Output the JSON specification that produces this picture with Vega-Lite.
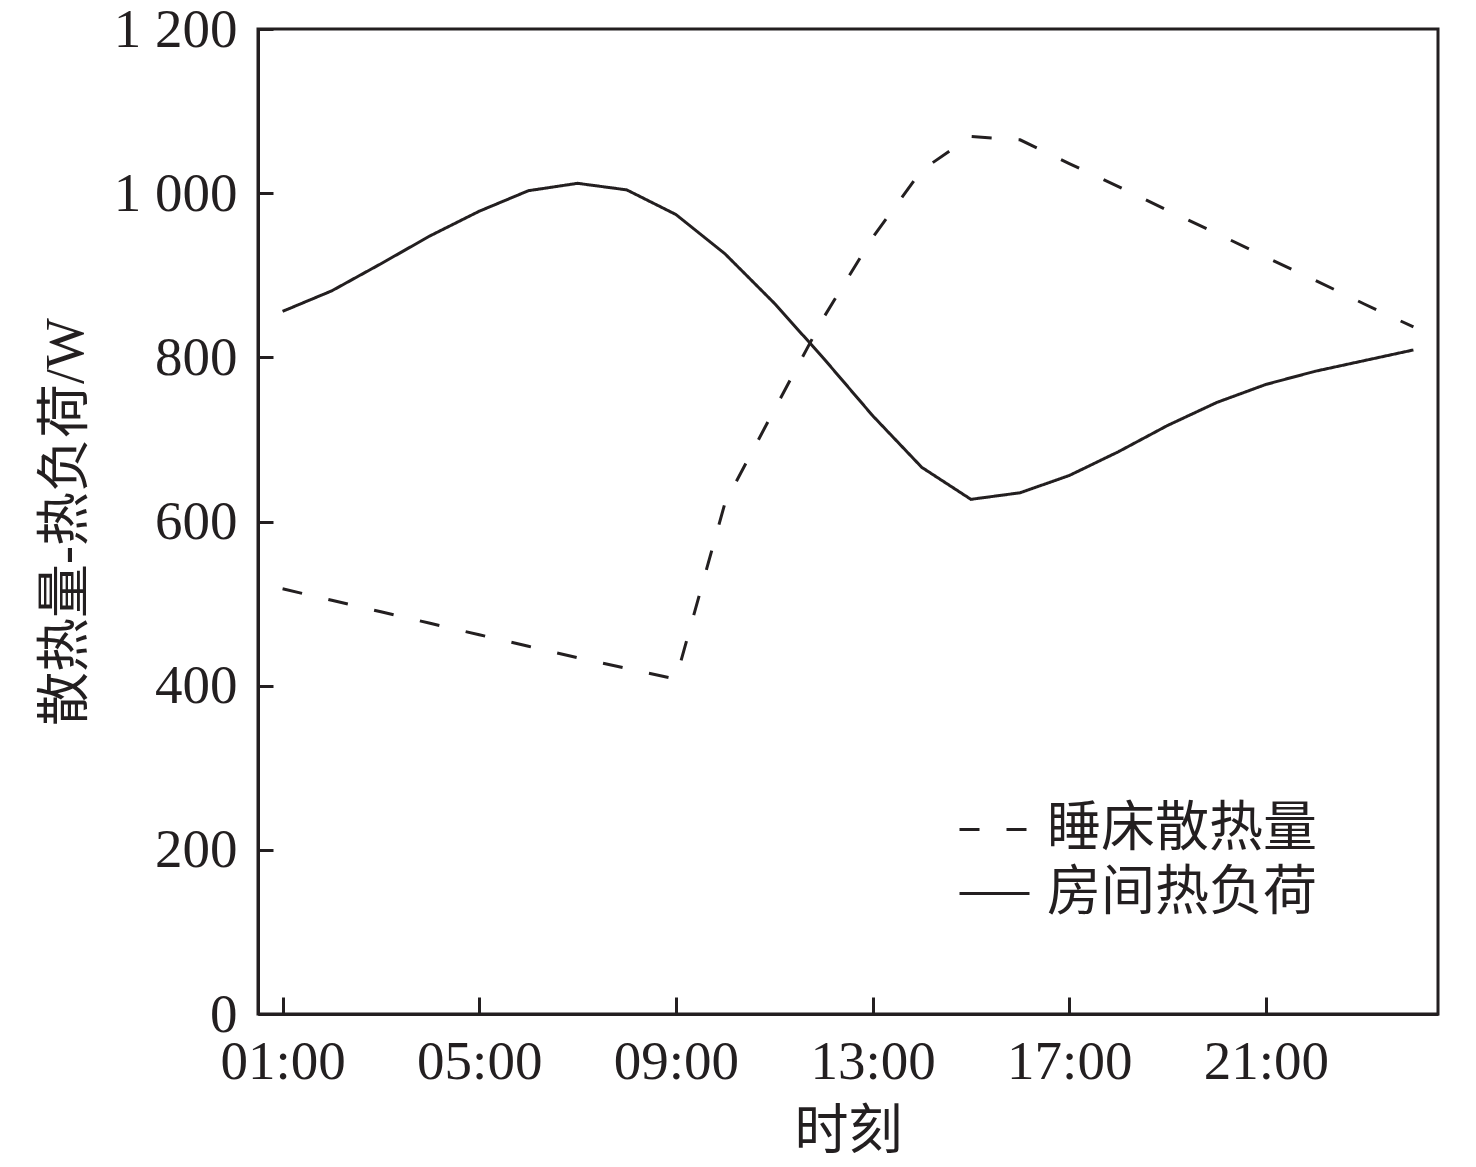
{
  "$schema": "https://vega.github.io/schema/vega-lite/v6.json",
  "width": 1180,
  "height": 985,
  "autosize": "none",
  "padding": {"left": 258, "top": 29, "right": 38, "bottom": 153},
  "background": "#ffffff",
  "config": {
    "font": "Liberation Serif, Noto Sans CJK SC",
    "view": {"stroke": "#231f20", "strokeWidth": 3},
    "axis": {
      "labelFont": "Liberation Serif, Noto Sans CJK SC",
      "titleFont": "Liberation Serif, Noto Sans CJK SC",
      "labelFontSize": 55,
      "titleFontSize": 54,
      "labelColor": "#231f20",
      "titleColor": "#231f20",
      "titleFontWeight": "normal",
      "domainColor": "#231f20",
      "domainWidth": 3,
      "tickColor": "#231f20",
      "tickWidth": 3,
      "grid": false
    },
    "legend": {
      "labelFont": "Liberation Serif, Noto Sans CJK SC",
      "labelFontSize": 54,
      "labelColor": "#231f20",
      "labelLimit": 0
    }
  },
  "data": {
    "values": [
      {"hour": 1, "series": "睡床散热量", "value": 518},
      {"hour": 2, "series": "睡床散热量", "value": 504},
      {"hour": 3, "series": "睡床散热量", "value": 490},
      {"hour": 4, "series": "睡床散热量", "value": 476},
      {"hour": 5, "series": "睡床散热量", "value": 462},
      {"hour": 6, "series": "睡床散热量", "value": 448},
      {"hour": 7, "series": "睡床散热量", "value": 434},
      {"hour": 8, "series": "睡床散热量", "value": 421},
      {"hour": 9, "series": "睡床散热量", "value": 408},
      {"hour": 10, "series": "睡床散热量", "value": 623},
      {"hour": 11, "series": "睡床散热量", "value": 736},
      {"hour": 12, "series": "睡床散热量", "value": 848},
      {"hour": 13, "series": "睡床散热量", "value": 946},
      {"hour": 14, "series": "睡床散热量", "value": 1028},
      {"hour": 15, "series": "睡床散热量", "value": 1069},
      {"hour": 16, "series": "睡床散热量", "value": 1065},
      {"hour": 17, "series": "睡床散热量", "value": 1036},
      {"hour": 18, "series": "睡床散热量", "value": 1008},
      {"hour": 19, "series": "睡床散热量", "value": 979},
      {"hour": 20, "series": "睡床散热量", "value": 951},
      {"hour": 21, "series": "睡床散热量", "value": 922},
      {"hour": 22, "series": "睡床散热量", "value": 894},
      {"hour": 23, "series": "睡床散热量", "value": 865},
      {"hour": 24, "series": "睡床散热量", "value": 837},
      {"hour": 1, "series": "房间热负荷", "value": 856},
      {"hour": 2, "series": "房间热负荷", "value": 881},
      {"hour": 3, "series": "房间热负荷", "value": 914},
      {"hour": 4, "series": "房间热负荷", "value": 948},
      {"hour": 5, "series": "房间热负荷", "value": 978},
      {"hour": 6, "series": "房间热负荷", "value": 1003},
      {"hour": 7, "series": "房间热负荷", "value": 1012},
      {"hour": 8, "series": "房间热负荷", "value": 1004},
      {"hour": 9, "series": "房间热负荷", "value": 974},
      {"hour": 10, "series": "房间热负荷", "value": 926},
      {"hour": 11, "series": "房间热负荷", "value": 866},
      {"hour": 12, "series": "房间热负荷", "value": 799},
      {"hour": 13, "series": "房间热负荷", "value": 729},
      {"hour": 14, "series": "房间热负荷", "value": 666},
      {"hour": 15, "series": "房间热负荷", "value": 627},
      {"hour": 16, "series": "房间热负荷", "value": 635},
      {"hour": 17, "series": "房间热负荷", "value": 656},
      {"hour": 18, "series": "房间热负荷", "value": 685},
      {"hour": 19, "series": "房间热负荷", "value": 717},
      {"hour": 20, "series": "房间热负荷", "value": 745},
      {"hour": 21, "series": "房间热负荷", "value": 767},
      {"hour": 22, "series": "房间热负荷", "value": 783},
      {"hour": 23, "series": "房间热负荷", "value": 796},
      {"hour": 24, "series": "房间热负荷", "value": 809}
    ]
  },
  "mark": {"type": "line", "color": "#231f20", "strokeWidth": 3},
  "encoding": {
    "x": {
      "field": "hour",
      "type": "quantitative",
      "scale": {"domain": [0.5, 24.5], "nice": false, "zero": false},
      "axis": {
        "title": "时刻",
        "values": [1, 5, 9, 13, 17, 21],
        "labelExpr": "(datum.value < 10 ? '0' : '') + datum.value + ':00'",
        "tickSize": -17,
        "labelPadding": 38,
        "titlePadding": 16
      }
    },
    "y": {
      "field": "value",
      "type": "quantitative",
      "scale": {"domain": [0, 1200], "nice": false},
      "axis": {
        "title": "散热量-热负荷/W",
        "values": [0, 200, 400, 600, 800, 1000, 1200],
        "labelExpr": "datum.value >= 1000 ? replace(format(datum.value, ','), ',', ' ') : datum.label",
        "tickSize": -15,
        "labelPadding": 36,
        "titlePadding": 20
      }
    },
    "detail": {"field": "series"},
    "strokeDash": {
      "field": "series",
      "type": "nominal",
      "scale": {"domain": ["睡床散热量", "房间热负荷"], "range": [[20, 27], [1, 0]]},
      "legend": {
        "title": null,
        "orient": "none",
        "legendX": 700,
        "legendY": 764,
        "symbolType": "stroke",
        "symbolSize": 4900,
        "symbolStrokeWidth": 3,
        "symbolStrokeColor": "#231f20",
        "labelOffset": 16,
        "rowPadding": -8
      }
    }
  }
}
